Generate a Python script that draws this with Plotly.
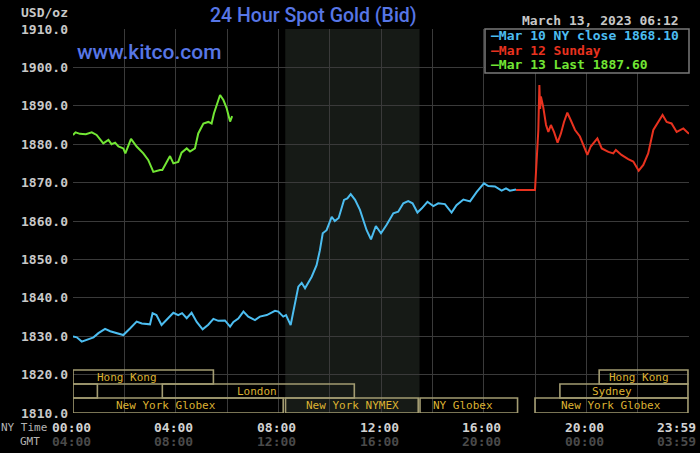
import plotly.graph_objects as go

# Mar 10 (NY session) bid, hours after midnight NY time
mar10_hours = [0.0, 0.15, 0.34, 0.55, 0.8, 0.99, 1.25, 1.45, 1.77, 1.96, 2.22, 2.48, 2.68, 3.0, 3.1, 3.25,
               3.45, 3.65, 3.91, 4.1, 4.25, 4.43, 4.62, 4.82, 5.05, 5.27, 5.47, 5.66, 5.92, 6.12, 6.25, 6.44,
               6.64, 6.83, 7.09, 7.28, 7.55, 7.87, 8.0, 8.19, 8.3, 8.48, 8.65, 8.78, 8.91, 9.04, 9.3, 9.49,
               9.62, 9.73, 9.88, 10.08, 10.2, 10.35, 10.56, 10.69, 10.82, 10.99, 11.18, 11.31, 11.44, 11.61,
               11.8, 12.0, 12.22, 12.48, 12.67, 12.87, 13.06, 13.23, 13.42, 13.59, 13.81, 14.04, 14.23, 14.49,
               14.75, 14.94, 15.21, 15.47, 15.73, 16.01, 16.18, 16.44, 16.7, 16.87, 17.02, 17.26]
mar10_price = [1829.9, 1829.7, 1828.6, 1829.1, 1829.7, 1830.8, 1831.9, 1831.3, 1830.6, 1830.3, 1832.0, 1833.8,
               1833.3, 1833.1, 1836.0, 1835.5, 1832.9, 1834.2, 1836.1, 1835.5, 1836.0, 1834.7, 1836.1, 1833.7,
               1831.8, 1833.0, 1834.5, 1834.0, 1834.1, 1832.5, 1833.7, 1834.6, 1836.4, 1835.1, 1834.2, 1835.1,
               1835.5, 1836.6, 1836.4, 1835.1, 1835.5, 1832.9, 1838.6, 1842.9, 1843.9, 1842.5, 1845.5, 1848.5,
               1852.4, 1856.8, 1857.6, 1861.1, 1860.0, 1860.8, 1865.5, 1865.9, 1867.0, 1865.5, 1862.9, 1860.4,
               1857.6, 1855.2, 1858.7, 1856.8, 1859.0, 1862.0, 1862.4, 1864.6, 1865.2, 1864.6, 1862.2, 1863.3,
               1865.0, 1863.9, 1864.6, 1864.4, 1862.2, 1864.1, 1865.6, 1865.1, 1867.6, 1869.8, 1869.1, 1869.0,
               1867.9, 1868.5, 1867.9, 1868.2]

# Mar 12 (Sunday evening) bid
mar12_hours = [17.26, 18.0, 18.05, 18.1, 18.13, 18.17, 18.2, 18.23, 18.32, 18.43, 18.52, 18.62, 18.74, 18.88,
               19.01, 19.13, 19.26, 19.39, 19.56, 19.75, 19.88, 20.04, 20.17, 20.43, 20.6, 20.86, 21.05, 21.15,
               21.37, 21.63, 21.83, 22.04, 22.22, 22.41, 22.61, 22.8, 22.97, 23.13, 23.32, 23.52, 23.78, 24.0]
mar12_price = [1868.1, 1868.1, 1874.1, 1880.0, 1883.7, 1895.4, 1889.2, 1892.4, 1889.7, 1885.0, 1883.2, 1885.0,
               1883.2, 1880.4, 1882.8, 1885.8, 1888.2, 1886.3, 1883.7, 1882.0, 1879.8, 1877.2, 1879.4, 1881.5,
               1878.9, 1878.0, 1877.6, 1878.5, 1877.2, 1876.1, 1875.5, 1873.1, 1874.6, 1877.6, 1883.7, 1885.8,
               1887.6, 1885.8, 1885.4, 1883.2, 1884.1, 1882.7]

# Mar 13 bid so far
mar13_hours = [0.0, 0.1, 0.27, 0.5, 0.73, 0.92, 1.18, 1.38, 1.5, 1.64, 1.77, 1.96, 2.04, 2.26, 2.48, 2.74,
               2.93, 3.13, 3.39, 3.48, 3.78, 3.91, 4.1, 4.23, 4.43, 4.56, 4.75, 4.88, 5.08, 5.27, 5.4, 5.49,
               5.73, 5.86, 5.99, 6.12, 6.2]
mar13_price = [1882.4, 1883.1, 1882.7, 1882.6, 1883.1, 1882.4, 1880.2, 1881.1, 1880.0, 1880.4, 1879.4, 1878.9,
               1877.6, 1881.4, 1879.4, 1877.6, 1875.9, 1872.8, 1873.3, 1873.3, 1876.9, 1875.0, 1875.4, 1877.8,
               1878.9, 1878.1, 1878.9, 1882.8, 1885.4, 1885.8, 1885.4, 1888.0, 1892.8, 1891.5, 1889.3, 1885.9,
               1887.3]

legend_labels = ["Mar 10 NY close 1868.10", "Mar 12 Sunday", "Mar 13 Last 1887.60"]

# trading sessions: name, start hour, end hour, row, label position
session_names = ["Hong Kong", "", "London", "New York Globex", "New York NYMEX", "NY Globex",
                 "New York Globex", "Sydney", "Hong Kong"]
session_start = [0, 0, 3.48, 0, 8.28, 13.52, 18.0, 18.97, 20.5]
session_end = [5.47, 0.95, 10.96, 8.19, 13.45, 17.32, 23.96, 23.96, 23.96]
session_row = [0, 1, 1, 2, 2, 2, 2, 1, 0]
session_label_x = [2.09, None, 7.16, 3.63, 10.89, 15.19, 20.96, 20.99, 22.04]

nymex_open, nymex_close = 8.27, 13.5

tick_hours = [0, 4, 8, 12, 16, 20, 24]
ny_labels = ["00:00", "04:00", "08:00", "12:00", "16:00", "20:00", "23:59"]
gmt_labels = ["04:00", "08:00", "12:00", "16:00", "20:00", "00:00", "03:59"]

W, H = 700, 453
L, R, T, B = 73, 11, 29, 40
MONO = "DejaVu Sans Mono"


def paper(px, py):
    # pixel position -> paper coordinates
    return (px - L) / (W - L - R), (H - B - py) / (H - T - B)


fig = go.Figure()
fig.add_trace(go.Scatter(x=mar10_hours, y=mar10_price, mode="lines", line=dict(color="#4cbdf0", width=2)))
fig.add_trace(go.Scatter(x=mar12_hours, y=mar12_price, mode="lines", line=dict(color="#e8321f", width=2)))
fig.add_trace(go.Scatter(x=mar13_hours, y=mar13_price, mode="lines", line=dict(color="#72e634", width=2)))

# NYMEX hours shading
fig.add_shape(type="rect", xref="x", yref="paper", x0=nymex_open, x1=nymex_close, y0=0, y1=1,
              fillcolor="#161a16", line_width=0, layer="below")

# session boxes along the bottom
row_top = [1821.2, 1817.55, 1813.9]
row_bot = [1817.55, 1813.9, 1810.0]
for name, s, e, r, lx in zip(session_names, session_start, session_end, session_row, session_label_x):
    fig.add_shape(type="rect", xref="x", yref="y", x0=s, x1=e, y0=row_bot[r], y1=row_top[r],
                  line=dict(color="#a39c72", width=1.6), layer="above")
    if name:
        fig.add_annotation(x=lx, y=(row_top[r] + row_bot[r]) / 2, xref="x", yref="y", text=name,
                           showarrow=False, yanchor="middle",
                           font=dict(family=MONO, size=11, color="#dcb232"))

# legend box
lx0, ly0 = paper(485, 73)
lx1, ly1 = paper(689, 29)
fig.add_shape(type="rect", xref="paper", yref="paper", x0=lx0, x1=lx1, y0=ly0, y1=ly1,
              fillcolor="#000000", line=dict(color="#7a7a7a", width=1.5), layer="above")
for i, (lab, col) in enumerate(zip(legend_labels, ["#4cbdf0", "#e8321f", "#72e634"])):
    ax, ay = paper(489, 36 + 14 * i)
    fig.add_annotation(x=ax, y=ay, xref="paper", yref="paper", text="–" + lab, showarrow=False,
                       xanchor="left", yanchor="middle", font=dict(family=MONO, size=13, color=col, weight="bold"))

# x tick labels, NY time and GMT
for h, ny, gmt in zip(tick_hours, ny_labels, gmt_labels):
    shift = -13 if h == 24 else -2
    fig.add_annotation(x=h, y=paper(0, 427)[1], xref="x", yref="paper", text=ny, showarrow=False, xshift=shift,
                       yanchor="middle", font=dict(family=MONO, size=13, color="#d2d2d2", weight="bold"))
    fig.add_annotation(x=h, y=paper(0, 441)[1], xref="x", yref="paper", text=gmt, showarrow=False, xshift=shift,
                       yanchor="middle", font=dict(family=MONO, size=13, color="#4a4a4a", weight="bold"))

texts = [
    ("NY Time", 49, 427, "right", dict(family=MONO, size=11, color="#b4b4b4")),
    ("GMT", 30, 441, "center", dict(family=MONO, size=11, color="#b4b4b4")),
    ("USD/oz", 44, 13, "center", dict(family=MONO, size=13, color="#c8c8c8", weight="bold")),
    ("March 13, 2023 06:12", 600, 20, "center", dict(family=MONO, size=13, color="#c8c8c8", weight="bold")),
    ("24 Hour Spot Gold (Bid)", 313, 16, "center", dict(family="Roboto", size=19.5, color="#5776e6", weight=500)),
    ("www.kitco.com", 75, 52, "left", dict(family="Roboto", size=21, color="#5776e6", weight=500)),
]
for t, x, y, anchor, f in texts:
    px_, py_ = paper(x, y)
    fig.add_annotation(x=px_, y=py_, xref="paper", yref="paper", text=t, showarrow=False,
                       xanchor=anchor, yanchor="middle", font=f)

fig.update_layout(
    width=W, height=H, margin=dict(l=L, r=R, t=T, b=B),
    plot_bgcolor="#000000", paper_bgcolor="#000000", showlegend=False,
    xaxis=dict(range=[0, 24], dtick=2, tick0=0, showgrid=True, gridcolor="#3a3a3a", gridwidth=1.3,
               showticklabels=False, zeroline=False, showline=False, fixedrange=True),
    yaxis=dict(range=[1810, 1910], dtick=10, tickformat=".1f", showgrid=True, gridcolor="#3a3a3a",
               gridwidth=1.3, zeroline=False, showline=False, ticklabelstandoff=4,
               tickfont=dict(family=MONO, size=13, color="#c8c8c8", weight="bold")),
)

# the page body has a default 8px margin; drop it so the chart sits at the window corner
fig.write_html("out.html", config={"displayModeBar": False},
               post_script="document.body.style.margin='0'; document.body.style.background='#000';")
